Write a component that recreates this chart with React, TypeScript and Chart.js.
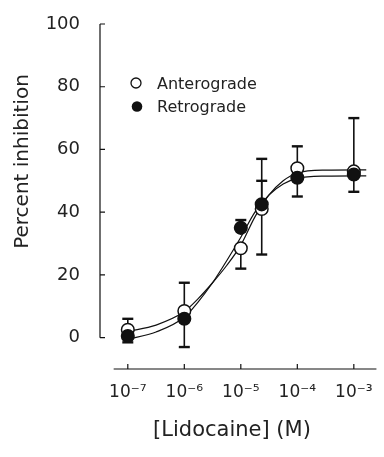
import React, { useEffect, useRef } from "react";
import { Chart, registerables } from "chart.js";

Chart.register(...registerables);

// ---- data (x as log10 of molar concentration) ----
const concLog = [-7, -6, -5, -4.63, -4, -3];
const anteMean = [2.5, 8.5, 28.5, 41, 54, 53];
const anteErrUp = [3.5, 9, 0, 16, 7, 17];
const anteErrDown = [0, 0, 6.5, 14.5, 0, 0];
const retroMean = [0.5, 6, 35, 42.5, 51, 52];
const retroErrUp = [0, 0, 2.5, 7.5, 0, 0];
const retroErrDown = [2, 9, 0, 0, 6, 5.5];

// fitted curves
const curveLog = [-7, -6.5, -6, -5.75, -5.5, -5.25, -5, -4.75, -4.5, -4.25, -4, -3.5, -2.78];
const anteCurve = [2.0, 4.0, 8.3, 12.5, 17.5, 23, 29.5, 38.5, 45.5, 50, 52.5, 53.4, 53.5];
const retroCurve = [-0.5, 1.8, 6.5, 11.5, 17.5, 24.5, 32, 40, 45.5, 49, 50.8, 51.5, 51.6];

const xTickValues = [-7, -6, -5, -4, -3];
const xTickLabels = ["10⁻⁷", "10⁻⁶", "10⁻⁵", "10⁻⁴", "10⁻³"];
const yTickValues = [0, 20, 40, 60, 80, 100];
const legendLabels = ["Anterograde", "Retrograde"];
const xTitle = "[Lidocaine] (M)";
const yTitle = "Percent inhibition";

const FONT = "'DejaVu Sans', 'Liberation Sans', sans-serif";
const INK = "#111";
const TXT = "#222";

const decorPlugin = {
  id: "decor",
  beforeDatasetsDraw(chart: any) {
    const { ctx, chartArea } = chart;
    const xs = chart.scales.x;
    const ys = chart.scales.y;
    ctx.save();
    ctx.strokeStyle = INK;
    ctx.lineCap = "butt";
    // y axis (0..100) with inward ticks
    const ax = chartArea.left;
    ctx.lineWidth = 1.2;
    ctx.beginPath();
    ctx.moveTo(ax, ys.getPixelForValue(0));
    ctx.lineTo(ax, ys.getPixelForValue(100));
    yTickValues.forEach((v) => {
      const py = ys.getPixelForValue(v);
      ctx.moveTo(ax, py);
      ctx.lineTo(ax + 5, py);
    });
    ctx.stroke();
    // x axis with inward ticks
    const ay = chartArea.bottom;
    ctx.beginPath();
    ctx.moveTo(xs.getPixelForValue(-7.25), ay);
    ctx.lineTo(xs.getPixelForValue(-2.6), ay);
    xTickValues.forEach((v) => {
      const px = xs.getPixelForValue(v);
      ctx.moveTo(px, ay);
      ctx.lineTo(px, ay - 5);
    });
    ctx.stroke();

    // error bars
    const drawBar = (x: number, m: number, e: number, dir: number) => {
      if (!e) return;
      const px = xs.getPixelForValue(x);
      const p0 = ys.getPixelForValue(m);
      const p1 = ys.getPixelForValue(m + dir * e);
      ctx.lineWidth = 1.6;
      ctx.beginPath();
      ctx.moveTo(px, p0);
      ctx.lineTo(px, p1);
      ctx.stroke();
      ctx.lineWidth = 2.4;
      ctx.beginPath();
      ctx.moveTo(px - 5.5, p1);
      ctx.lineTo(px + 5.5, p1);
      ctx.stroke();
    };
    concLog.forEach((x, i) => {
      drawBar(x, anteMean[i], anteErrUp[i], 1);
      drawBar(x, anteMean[i], anteErrDown[i], -1);
      drawBar(x, retroMean[i], retroErrUp[i], 1);
      drawBar(x, retroMean[i], retroErrDown[i], -1);
    });
    ctx.restore();
  },
  afterDatasetsDraw(chart: any) {
    const { ctx } = chart;
    ctx.save();
    // legend
    ctx.font = `16px ${FONT}`;
    ctx.textBaseline = "alphabetic";
    ctx.textAlign = "left";
    ctx.lineWidth = 1.3;
    ctx.strokeStyle = INK;
    ctx.beginPath();
    ctx.arc(136, 83, 5, 0, Math.PI * 2);
    ctx.fillStyle = "#fff";
    ctx.fill();
    ctx.stroke();
    ctx.beginPath();
    ctx.arc(137, 106.5, 5.3, 0, Math.PI * 2);
    ctx.fillStyle = INK;
    ctx.fill();
    ctx.fillStyle = TXT;
    ctx.fillText(legendLabels[0], 157, 88.5);
    ctx.fillText(legendLabels[1], 157, 112);
    // axis titles
    ctx.font = `21px ${FONT}`;
    ctx.textAlign = "center";
    ctx.fillText(xTitle, 232, 436);
    ctx.save();
    ctx.translate(28, 161.5);
    ctx.rotate(-Math.PI / 2);
    ctx.font = `20px ${FONT}`;
    ctx.fillText(yTitle, 0, 0);
    ctx.restore();
    ctx.restore();
  },
};

export default function App() {
  const ref = useRef<HTMLCanvasElement>(null);
  useEffect(() => {
    if (!ref.current) return;
    const chart = new Chart(ref.current, {
      type: "scatter",
      data: {
        datasets: [
          {
            label: legendLabels[1],
            data: concLog.map((x, i) => ({ x, y: retroMean[i] })),
            showLine: false,
            pointRadius: 6.3,
            pointBackgroundColor: INK,
            pointBorderColor: INK,
            pointBorderWidth: 1.5,
            order: 0,
          },
          {
            label: legendLabels[0],
            data: concLog.map((x, i) => ({ x, y: anteMean[i] })),
            showLine: false,
            pointRadius: 6.3,
            pointBackgroundColor: "#fff",
            pointBorderColor: INK,
            pointBorderWidth: 1.5,
            order: 1,
          },
          {
            label: "fit A",
            data: curveLog.map((x, i) => ({ x, y: anteCurve[i] })),
            showLine: true,
            cubicInterpolationMode: "monotone",
            borderColor: INK,
            borderWidth: 1.2,
            pointRadius: 0,
            order: 2,
          },
          {
            label: "fit R",
            data: curveLog.map((x, i) => ({ x, y: retroCurve[i] })),
            showLine: true,
            cubicInterpolationMode: "monotone",
            borderColor: INK,
            borderWidth: 1.2,
            pointRadius: 0,
            order: 3,
          },
        ],
      } as any,
      options: {
        animation: false,
        responsive: false,
        devicePixelRatio: 1,
        layout: { padding: { top: 24, right: 6, left: 0, bottom: 0 } },
        plugins: { legend: { display: false }, tooltip: { enabled: false } },
        scales: {
          x: {
            type: "linear",
            min: -7.492,
            max: -2.604,
            grid: { display: false },
            border: { display: false },
            afterBuildTicks: (s: any) => {
              s.ticks = xTickValues.map((v) => ({ value: v }));
            },
            afterFit: (s: any) => {
              s.height = 88;
            },
            ticks: {
              padding: 5,
              color: TXT,
              font: { family: FONT, size: 17 },
              maxRotation: 0,
              autoSkip: false,
              callback: (v: any) => {
                const i = xTickValues.indexOf(Number(v));
                return i >= 0 ? xTickLabels[i] : "";
              },
            },
          },
          y: {
            type: "linear",
            min: -10,
            max: 100,
            grid: { display: false },
            border: { display: false },
            afterBuildTicks: (s: any) => {
              s.ticks = yTickValues.map((v) => ({ value: v }));
            },
            afterFit: (s: any) => {
              s.width = 100;
            },
            ticks: {
              padding: 12,
              color: TXT,
              font: { family: FONT, size: 18 },
              autoSkip: false,
            },
          },
        },
      } as any,
      plugins: [decorPlugin],
    });
    return () => chart.destroy();
  }, []);
  return (
    <div style={{ position: "absolute", left: 0, top: 0, width: 384, height: 457, background: "#fff" }}>
      <canvas ref={ref} width={384} height={457} style={{ width: 384, height: 457, display: "block" }} />
    </div>
  );
}
